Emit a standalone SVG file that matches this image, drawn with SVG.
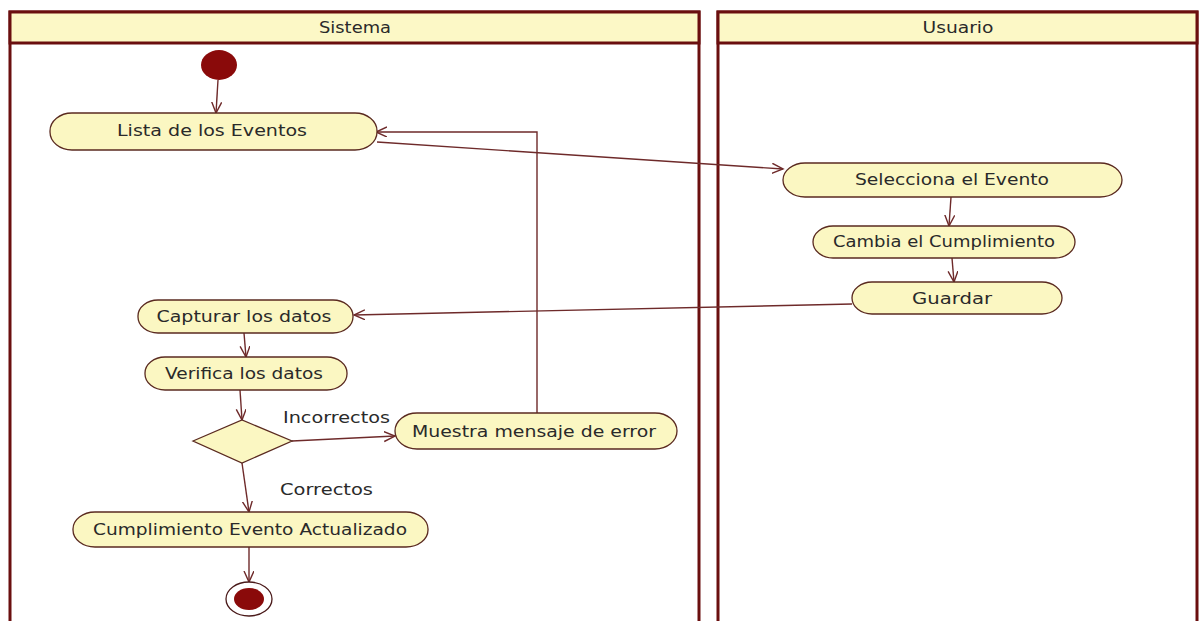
<svg xmlns="http://www.w3.org/2000/svg" width="1201" height="621" viewBox="0 0 1201 621">
<style>
.lane{fill:#ffffff;stroke:#6a0f0f;stroke-width:3}
.hdr{fill:#fcf8c6;stroke:#6a0f0f;stroke-width:3}
.act{fill:#fbf7c2;stroke:#5a2a20;stroke-width:1.3}
.t{font-family:"DejaVu Sans","Liberation Sans",sans-serif;font-size:15px;fill:#2a2a2a}
.c{text-anchor:middle}
.con{fill:none;stroke:#6e2a2a;stroke-width:1.4}
</style>
<defs>
<marker id="arr" markerWidth="14" markerHeight="12" refX="11" refY="5" orient="auto" markerUnits="userSpaceOnUse">
<path d="M0,0 L11,5 L0,10" fill="none" stroke="#6e2a2a" stroke-width="1.4"/>
</marker>
</defs>
<rect width="1201" height="621" fill="#ffffff"/>
<g id="lane-sistema">
<rect class="lane" x="10" y="12" width="689" height="620"/>
<rect class="hdr" x="10" y="12" width="689" height="31"/>
<text class="t c" x="355" y="33" textLength="72" lengthAdjust="spacingAndGlyphs">Sistema</text>
</g>
<g id="lane-usuario">
<rect class="lane" x="718" y="12" width="479" height="620"/>
<rect class="hdr" x="718" y="12" width="479" height="31"/>
<text class="t c" x="958" y="33" textLength="71" lengthAdjust="spacingAndGlyphs">Usuario</text>
</g>
<g id="connectors">
<line class="con" x1="218" y1="80" x2="216" y2="113" marker-end="url(#arr)"/>
<line class="con" x1="377" y1="142" x2="783" y2="169" marker-end="url(#arr)"/>
<line class="con" x1="951" y1="197" x2="949" y2="226" marker-end="url(#arr)"/>
<line class="con" x1="952" y1="258" x2="954" y2="282" marker-end="url(#arr)"/>
<line class="con" x1="852" y1="304" x2="354" y2="315" marker-end="url(#arr)"/>
<polyline class="con" points="537,413 537,132 376,132" marker-end="url(#arr)"/>
<line class="con" x1="244" y1="333" x2="246" y2="357" marker-end="url(#arr)"/>
<line class="con" x1="240" y1="390" x2="242" y2="420" marker-end="url(#arr)"/>
<line class="con" x1="292" y1="441" x2="395" y2="436" marker-end="url(#arr)"/>
<line class="con" x1="242" y1="463" x2="249" y2="512" marker-end="url(#arr)"/>
<line class="con" x1="249" y1="547" x2="249" y2="582" marker-end="url(#arr)"/>
<text class="t" x="283" y="423" textLength="107" lengthAdjust="spacingAndGlyphs">Incorrectos</text>
<text class="t" x="280" y="495" textLength="93" lengthAdjust="spacingAndGlyphs">Correctos</text>
</g>
<g id="initial">
<ellipse cx="219" cy="65" rx="18" ry="15" fill="#8a0a0a"/>
</g>
<g id="lista">
<rect class="act" x="50" y="113" width="327" height="37" rx="22" ry="18"/>
<text class="t c" x="212" y="136" textLength="190" lengthAdjust="spacingAndGlyphs">Lista de los Eventos</text>
</g>
<g id="selecciona">
<rect class="act" x="783" y="163" width="339" height="34" rx="22" ry="17"/>
<text class="t c" x="952" y="185" textLength="194" lengthAdjust="spacingAndGlyphs">Selecciona el Evento</text>
</g>
<g id="cambia">
<rect class="act" x="813" y="226" width="262" height="32" rx="20" ry="16"/>
<text class="t c" x="944" y="247" textLength="222" lengthAdjust="spacingAndGlyphs">Cambia el Cumplimiento</text>
</g>
<g id="guardar">
<rect class="act" x="852" y="282" width="210" height="32" rx="20" ry="16"/>
<text class="t c" x="952" y="304" textLength="80" lengthAdjust="spacingAndGlyphs">Guardar</text>
</g>
<g id="capturar">
<rect class="act" x="138" y="300" width="215" height="33" rx="20" ry="16"/>
<text class="t c" x="244" y="322" textLength="175" lengthAdjust="spacingAndGlyphs">Capturar los datos</text>
</g>
<g id="verifica">
<rect class="act" x="145" y="357" width="202" height="33" rx="20" ry="16"/>
<text class="t c" x="244" y="379" textLength="158" lengthAdjust="spacingAndGlyphs">Verifica los datos</text>
</g>
<g id="decision">
<polygon class="act" points="193,441 242,420 292,441 242,463"/>
</g>
<g id="muestra">
<rect class="act" x="395" y="413" width="282" height="36" rx="22" ry="18"/>
<text class="t c" x="534" y="437" textLength="244" lengthAdjust="spacingAndGlyphs">Muestra mensaje de error</text>
</g>
<g id="actualizado">
<rect class="act" x="73" y="512" width="355" height="35" rx="22" ry="17"/>
<text class="t c" x="250" y="535" textLength="314" lengthAdjust="spacingAndGlyphs">Cumplimiento Evento Actualizado</text>
</g>
<g id="final">
<ellipse cx="249" cy="599" rx="23" ry="17" fill="#ffffff" stroke="#4a1a1a" stroke-width="1.3"/>
<ellipse cx="249" cy="599" rx="15" ry="11" fill="#8a0a0a"/>
</g>
</svg>
